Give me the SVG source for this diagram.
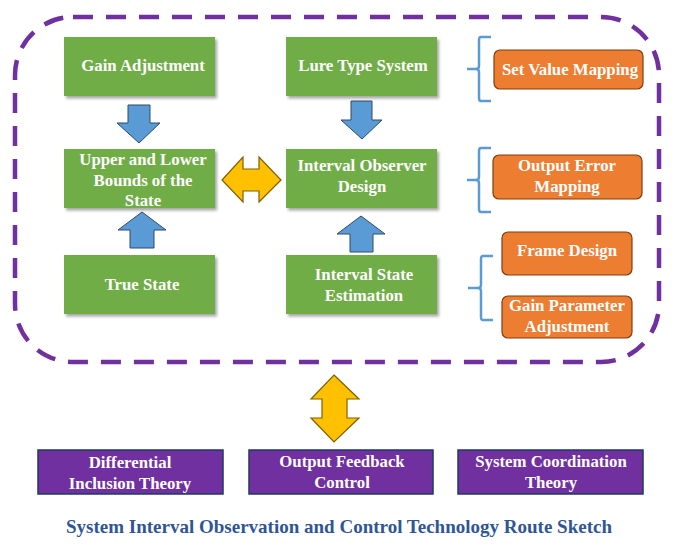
<svg xmlns="http://www.w3.org/2000/svg" width="675" height="546" viewBox="0 0 675 546">
  <defs>
    <filter id="shadow" x="-10%" y="-10%" width="125%" height="130%">
      <feDropShadow dx="2" dy="2.5" stdDeviation="1.5" flood-color="#000" flood-opacity="0.35"/>
    </filter>
    <style>
      .frame { fill: none; stroke: #7030A0; stroke-width: 4.5; stroke-dasharray: 20 13; }
      .green { fill: #70AD47; filter: url(#shadow); }
      .orange { fill: #ED7D31; stroke: #843C0C; stroke-width: 1.2; }
      .purple { fill: #7030A0; stroke: #1F3864; stroke-width: 1.5; }
      .blue { fill: #5B9BD5; stroke: #2E4A66; stroke-width: 1; }
      .yellow { fill: #FFC000; stroke: #7F6000; stroke-width: 1.2; }
      .brace { fill: none; stroke: #5B9BD5; stroke-width: 2.5; }
      text { font-family: "Liberation Serif", "Times New Roman", serif; font-weight: bold; text-anchor: middle; }
      .lbl { fill: #FFFFFF; font-size: 16.8px; }
      .title { fill: #2F5597; font-size: 19px; }
    </style>
  </defs>

  <!-- dashed boundary around the observer design stages -->
  <rect class="frame" x="15" y="17" width="644" height="345" rx="58" ry="58"/>

  <!-- connectors -->
  <g id="connectors">
    <!-- Gain Adjustment -> bounds -->
    <polygon class="blue" points="128,105 150,105 150,123 160,123 139,143 117,123 128,123"/>
    <!-- True State -> bounds -->
    <polygon class="blue" points="130,248 154,248 154,230 166,230 142,212 118,230 130,230"/>
    <!-- Lure Type System -> observer design -->
    <polygon class="blue" points="351,101 372,101 372,120 382,120 362,139 341,120 351,120"/>
    <!-- state estimation -> observer design -->
    <polygon class="blue" points="350,252 373,252 373,234 385,234 361,216 337,234 350,234"/>
    <!-- bounds <-> observer design -->
    <polygon class="yellow" points="222,180 243,157 243,169 259,169 259,157 281,180 259,202 259,191 243,191 243,202"/>
    <!-- frame <-> output feedback control -->
    <polygon class="yellow" points="334,375 359,399 347,399 347,418 359,418 334,442 311,418 322,418 322,399 311,399"/>
    <!-- braces -->
    <path class="brace" d="M491,37 H481 Q479,37 479,40 V66 Q479,69 476,69 H467 H476 Q479,69 479,72 V98 Q479,101 481,101 H491"/>
    <path class="brace" d="M491,148 H481 Q479,148 479,151 V177 Q479,180 476,180 H467 H476 Q479,180 479,183 V209 Q479,212 481,212 H491"/>
    <path class="brace" d="M493,256 H483 Q481,256 481,259 V285 Q481,288 478,288 H468 H478 Q481,288 481,291 V317 Q481,320 483,320 H493"/>
  </g>

  <g id="gain-adjustment">
    <rect class="green" x="64" y="37" width="151" height="59"/>
    <text class="lbl" x="143" y="71">Gain Adjustment</text>
  </g>
  <g id="lure-type-system">
    <rect class="green" x="286" y="37" width="151" height="59"/>
    <text class="lbl" x="363" y="71">Lure Type System</text>
  </g>
  <g id="state-bounds">
    <rect class="green" x="64" y="149" width="151" height="59"/>
    <text class="lbl" x="143" y="165">Upper and Lower</text>
    <text class="lbl" x="143" y="186">Bounds of the</text>
    <text class="lbl" x="143" y="206">State</text>
  </g>
  <g id="observer-design">
    <rect class="green" x="286" y="149" width="151" height="59"/>
    <text class="lbl" x="362" y="171">Interval Observer</text>
    <text class="lbl" x="362" y="192">Design</text>
  </g>
  <g id="true-state">
    <rect class="green" x="64" y="255" width="151" height="59"/>
    <text class="lbl" x="142" y="290">True State</text>
  </g>
  <g id="state-estimation">
    <rect class="green" x="286" y="255" width="151" height="59"/>
    <text class="lbl" x="364" y="280">Interval State</text>
    <text class="lbl" x="364" y="301">Estimation</text>
  </g>

  <g id="set-value-mapping">
    <rect class="orange" x="494" y="50" width="149" height="39" rx="6"/>
    <text class="lbl" x="570" y="75">Set Value Mapping</text>
  </g>
  <g id="output-error-mapping">
    <rect class="orange" x="493" y="155" width="149" height="44" rx="6"/>
    <text class="lbl" x="567" y="171">Output Error</text>
    <text class="lbl" x="567" y="192">Mapping</text>
  </g>
  <g id="frame-design">
    <rect class="orange" x="502" y="232" width="130" height="43" rx="6"/>
    <text class="lbl" x="567" y="256">Frame Design</text>
  </g>
  <g id="gain-parameter-adjustment">
    <rect class="orange" x="502" y="296" width="130" height="42" rx="6"/>
    <text class="lbl" x="567" y="311">Gain Parameter</text>
    <text class="lbl" x="567" y="332">Adjustment</text>
  </g>

  <g id="differential-inclusion">
    <rect class="purple" x="38" y="450" width="185" height="44"/>
    <text class="lbl" x="130" y="468">Differential</text>
    <text class="lbl" x="130" y="489">Inclusion Theory</text>
  </g>
  <g id="output-feedback">
    <rect class="purple" x="249" y="450" width="184" height="44"/>
    <text class="lbl" x="342" y="467">Output Feedback</text>
    <text class="lbl" x="342" y="488">Control</text>
  </g>
  <g id="system-coordination">
    <rect class="purple" x="458" y="450" width="185" height="44"/>
    <text class="lbl" x="551" y="467">System Coordination</text>
    <text class="lbl" x="551" y="488">Theory</text>
  </g>

  <text class="title" x="339" y="533">System Interval Observation and Control Technology Route Sketch</text>
</svg>
